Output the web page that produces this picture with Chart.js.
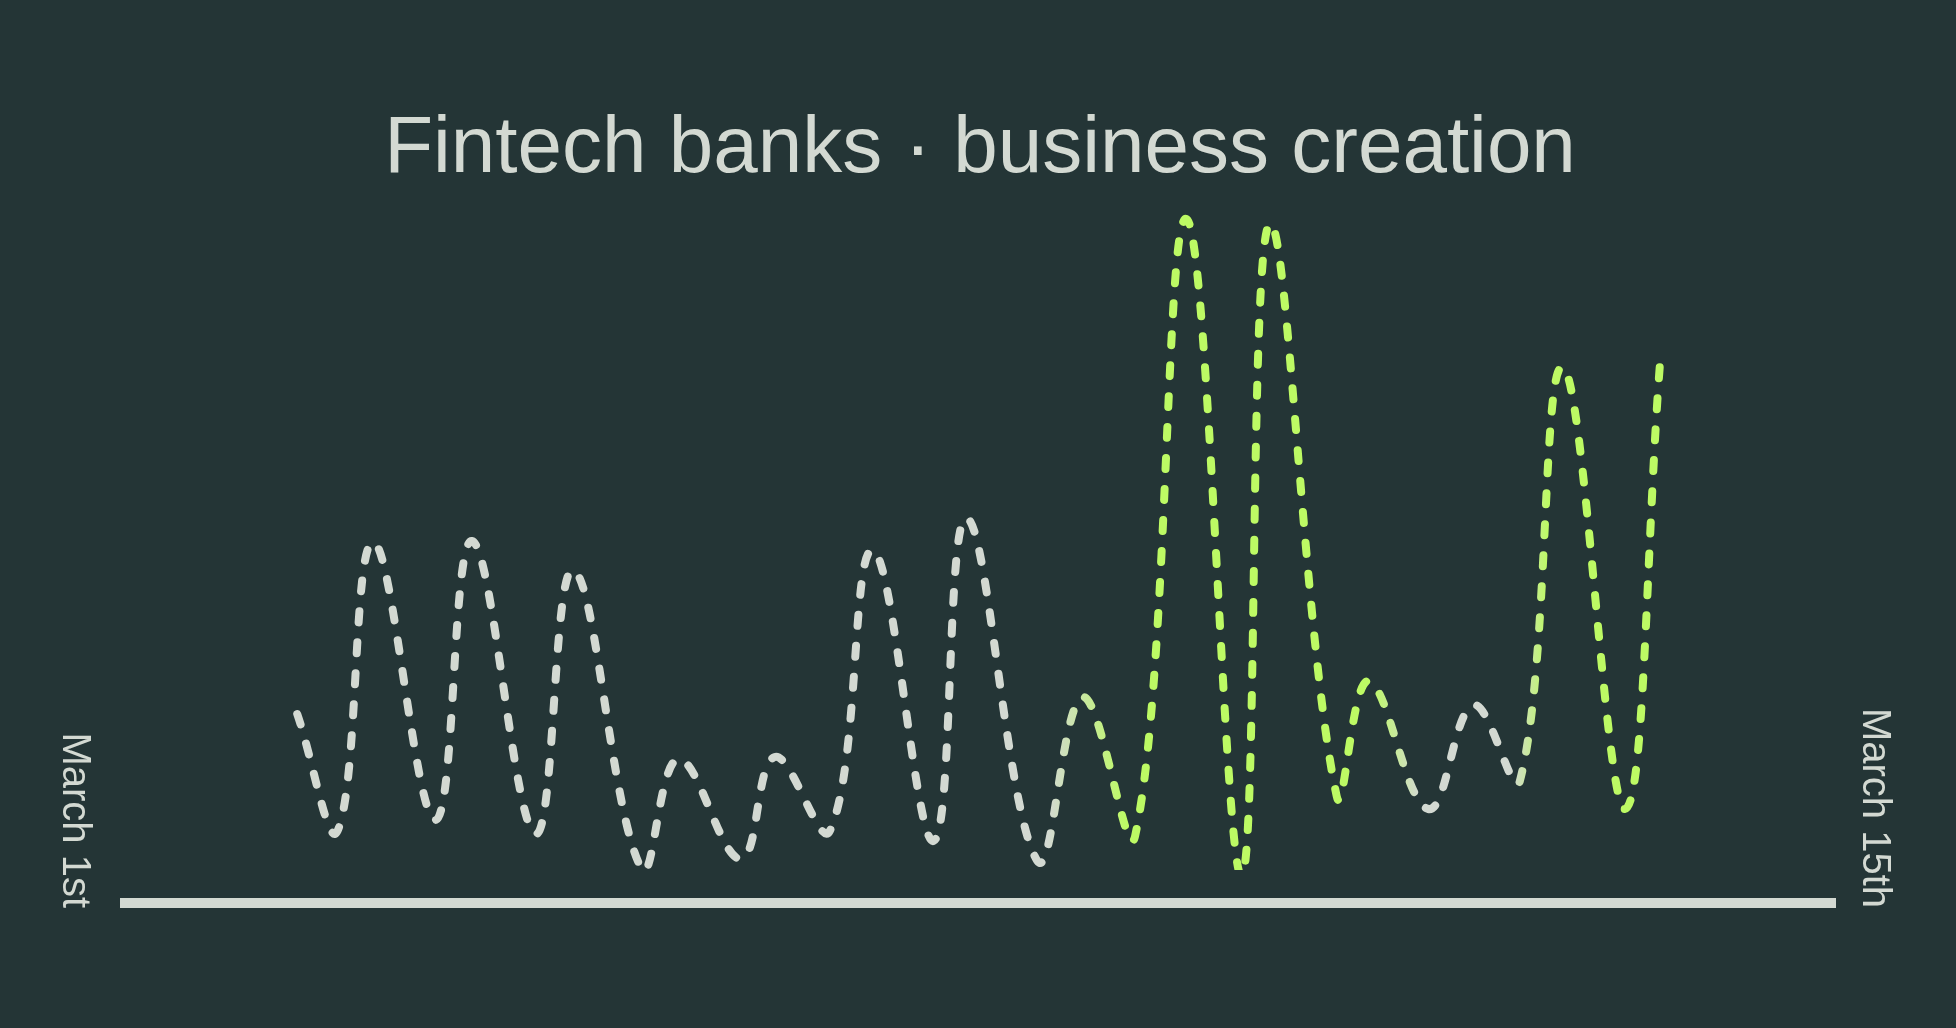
<!DOCTYPE html>
<html>
<head>
<meta charset="utf-8">
<title>Fintech banks · business creation</title>
<script src="https://cdn.jsdelivr.net/npm/chart.js@4.4.1/dist/chart.umd.min.js"></script>
<style>
    html, body { margin: 0; padding: 0; background: #243536; }
    #wrap { width: 1956px; height: 1028px; position: relative; }
</style>
</head>
<body>
<div id="wrap"><canvas id="creation-chart"></canvas></div>
<script>
// Data: day offset from March 1st and number of businesses created
const days = [1.41, 1.74, 2.03, 2.54, 2.84, 3.36, 3.67, 4.23, 4.53, 5.04,
              5.32, 5.77, 6.12, 6.62, 6.89, 7.47, 7.84, 8.27, 8.69, 9.14,
              9.37, 9.92, 10.18, 10.67, 11.04, 11.42, 11.77, 12.28, 12.57];
const creations = [18.4, 6.7, 35.6, 7.8, 35.7, 6.4, 32.8, 2.9, 13.9, 3.9,
                   14.1, 6.7, 34.8, 5.7, 38.0, 3.7, 20.1, 6.2, 67.9, 2.2,
                   67.4, 10.2, 21.7, 8.9, 19.3, 11.7, 53.1, 8.9, 53.9];
const dateLabels = ['March 1st', 'March 15th'];
const dayRange = [0, 14];

// Colours
const textColor = '#d3d9d2';
const lineGray = '#d3d9d2';
const lineGreen = '#bdfa64';
const fontFamily = '"Liberation Sans", Arial, sans-serif';

// where along the timeline the line shifts between gray and green
const colorStops = [
    [7.55, lineGray], [8.2, lineGreen],
    [10.2, lineGreen], [10.6, lineGray],
    [11.35, lineGray], [11.65, lineGreen]
];

function lineGradient(context) {
    const chart = context.chart;
    const {ctx, chartArea, scales} = chart;
    if (!chartArea) return lineGray;
    const g = ctx.createLinearGradient(chartArea.left, 0, chartArea.right, 0);
    const w = chartArea.right - chartArea.left;
    colorStops.forEach(([day, color]) => {
        const pos = (scales.x.getPixelForValue(day) - chartArea.left) / w;
        g.addColorStop(Math.min(1, Math.max(0, pos)), color);
    });
    return g;
}

// rotated date labels at both ends of the axis
const endLabels = {
    id: 'endLabels',
    afterDraw(chart) {
        const {ctx, chartArea, scales} = chart;
        const anchors = [
            scales.x.getPixelForValue(dayRange[0]) - 62,
            scales.x.getPixelForValue(dayRange[1]) + 28
        ];
        ctx.save();
        ctx.font = '40px ' + fontFamily;
        ctx.fillStyle = textColor;
        ctx.textAlign = 'right';
        ctx.textBaseline = 'alphabetic';
        dateLabels.forEach((label, i) => {
            ctx.save();
            ctx.translate(anchors[i], chartArea.bottom + 5);
            ctx.rotate(Math.PI / 2);
            ctx.fillText(label, 0, 0);
            ctx.restore();
        });
        ctx.restore();
    }
};

const ctx = document.getElementById('creation-chart').getContext('2d');
const chart = new Chart(ctx, {
    type: 'line',
    data: {
        datasets: [{
            label: 'Business creation',
            data: days.map((d, i) => ({x: d, y: creations[i]})),
            borderColor: lineGradient,
            borderWidth: 8,
            borderDash: [11, 20],
            borderCapStyle: 'round',
            tension: 0.4,
            pointRadius: 0,
            fill: false,
            clip: {left: false, right: false, top: false, bottom: -33}
        }]
    },
    options: {
        responsive: true,
        maintainAspectRatio: false,
        animation: false,
        layout: {
            padding: {top: 0, left: 125, right: 121, bottom: 125}
        },
        plugins: {
            legend: {display: false},
            tooltip: {enabled: false},
            title: {
                display: true,
                text: 'Fintech banks · business creation',
                color: textColor,
                font: {family: fontFamily, size: 80, weight: 'normal'},
                padding: {top: 102, bottom: 0}
            }
        },
        scales: {
            x: {
                type: 'linear',
                min: dayRange[0],
                max: dayRange[1],
                grid: {display: false, drawTicks: false},
                ticks: {display: false},
                border: {display: true, color: textColor, width: 10}
            },
            y: {
                display: false,
                min: -0.5,
                max: 70
            }
        }
    },
    plugins: [endLabels]
});
</script>
</body>
</html>
